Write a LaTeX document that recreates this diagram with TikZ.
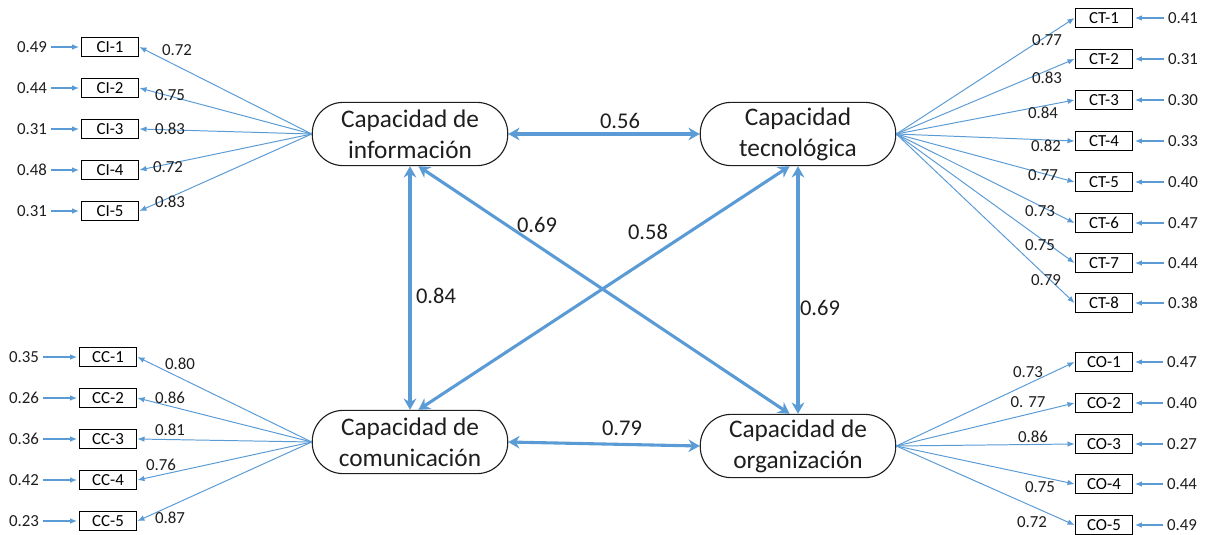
\documentclass[tikz,border=0pt]{standalone}
\usepackage{fontspec}
\setmainfont{Carlito}
\usepackage{tikz}
\usetikzlibrary{arrows.meta}

\definecolor{lineblue}{RGB}{91,155,213}
\definecolor{textgray}{RGB}{30,30,30}

\tikzset{
  latent/.style={draw=textgray, line width=0.8pt, rounded corners=22pt,
    minimum width=139pt, minimum height=45pt, align=center, inner sep=0pt,
    text=textgray, font=\fontsize{18}{22}\selectfont},
  indic/.style={draw=black, line width=0.9pt, minimum width=41pt,
    minimum height=13.5pt, inner sep=0pt, font=\fontsize{12}{12}\selectfont},
  coef/.style={inner sep=1pt, text=textgray, font=\fontsize{12}{12}\selectfont},
  corr/.style={inner sep=1pt, text=textgray, font=\fontsize{16}{16}\selectfont},
  load/.style={draw=lineblue, line width=0.7pt, -{Latex[length=5pt,width=4pt]}},
  err/.style={draw=lineblue, line width=0.9pt, -{Latex[length=5pt,width=4pt]}, shorten <=2pt, shorten >=1pt},
  link/.style={draw=lineblue, line width=2.2pt, {Stealth[length=8pt,width=9pt]}-{Stealth[length=8pt,width=9pt]}}
}

\begin{document}
\begin{tikzpicture}[x=0.025cm,y=-0.025cm]
\useasboundingbox (0,0) rectangle (1205,534);
%% Latent variables
\node[latent] (info) at (410,134) {Capacidad de\\información};
\node[latent] (tec) at (798,134) {Capacidad\\tecnológica};
\node[latent] (com) at (410,442) {Capacidad de\\comunicación};
\node[latent] (org) at (798,446) {Capacidad de\\organización};
%% Indicators of informacion
\node[indic] (ci1) at (110,47) {CI-1};
\node[indic] (ci2) at (110,88) {CI-2};
\node[indic] (ci3) at (110,129) {CI-3};
\node[indic] (ci4) at (110,170) {CI-4};
\node[indic] (ci5) at (110,211) {CI-5};
\node[coef] (eci1) at (32,47) {0.49};
\node[coef] (eci2) at (32,88) {0.44};
\node[coef] (eci3) at (32,129) {0.31};
\node[coef] (eci4) at (32,170) {0.48};
\node[coef] (eci5) at (32,211) {0.31};
\foreach \i in {1,...,5}{
  \draw[load] (info.west) -- (ci\i.east);
  \draw[err] (eci\i.east) -- (ci\i.west);
}
\node[coef] at (177,50) {0.72};
\node[coef] at (170,95) {0.75};
\node[coef] at (170,129) {0.83};
\node[coef] at (168,167) {0.72};
\node[coef] at (170,202) {0.83};
%% Indicators of comunicacion
\node[indic] (cc1) at (108,357) {CC-1};
\node[indic] (cc2) at (108,398) {CC-2};
\node[indic] (cc3) at (108,439) {CC-3};
\node[indic] (cc4) at (108,480) {CC-4};
\node[indic] (cc5) at (108,521) {CC-5};
\node[coef] (ecc1) at (24,357) {0.35};
\node[coef] (ecc2) at (24,398) {0.26};
\node[coef] (ecc3) at (24,439) {0.36};
\node[coef] (ecc4) at (24,480) {0.42};
\node[coef] (ecc5) at (24,521) {0.23};
\foreach \i in {1,...,5}{
  \draw[load] (com.west) -- (cc\i.east);
  \draw[err] (ecc\i.east) -- (cc\i.west);
}
\node[coef] at (180,364) {0.80};
\node[coef] at (170,398) {0.86};
\node[coef] at (170,430) {0.81};
\node[coef] at (161,465) {0.76};
\node[coef] at (170,518) {0.87};
%% Indicators of tecnologica
\node[indic] (ct1) at (1104,18) {CT-1};
\node[indic] (ct2) at (1104,59) {CT-2};
\node[indic] (ct3) at (1104,100) {CT-3};
\node[indic] (ct4) at (1104,141) {CT-4};
\node[indic] (ct5) at (1104,182) {CT-5};
\node[indic] (ct6) at (1104,223) {CT-6};
\node[indic] (ct7) at (1104,263) {CT-7};
\node[indic] (ct8) at (1104,303) {CT-8};
\node[coef] (ect1) at (1183,18) {0.41};
\node[coef] (ect2) at (1183,59) {0.31};
\node[coef] (ect3) at (1183,100) {0.30};
\node[coef] (ect4) at (1183,141) {0.33};
\node[coef] (ect5) at (1183,182) {0.40};
\node[coef] (ect6) at (1183,223) {0.47};
\node[coef] (ect7) at (1183,263) {0.44};
\node[coef] (ect8) at (1183,303) {0.38};
\foreach \i in {1,...,8}{
  \draw[load] (tec.east) -- (ct\i.west);
  \draw[err] (ect\i.west) -- (ct\i.east);
}
\node[coef] at (1047,40) {0.77};
\node[coef] at (1047,78) {0.83};
\node[coef] at (1043,113) {0.84};
\node[coef] at (1046,146) {0.82};
\node[coef] at (1043,175) {0.77};
\node[coef] at (1040,211) {0.73};
\node[coef] at (1040,245) {0.75};
\node[coef] at (1046,280) {0.79};
%% Indicators of organizacion
\node[indic] (co1) at (1104,362) {CO-1};
\node[indic] (co2) at (1104,403) {CO-2};
\node[indic] (co3) at (1104,444) {CO-3};
\node[indic] (co4) at (1104,484) {CO-4};
\node[indic] (co5) at (1104,525) {CO-5};
\node[coef] (eco1) at (1182,362) {0.47};
\node[coef] (eco2) at (1182,403) {0.40};
\node[coef] (eco3) at (1182,444) {0.27};
\node[coef] (eco4) at (1182,484) {0.44};
\node[coef] (eco5) at (1182,525) {0.49};
\foreach \i in {1,...,5}{
  \draw[load] (org.east) -- (co\i.west);
  \draw[err] (eco\i.west) -- (co\i.east);
}
\node[coef] at (1028,372) {0.73};
\node[coef] at (1028,402) {0. 77};
\node[coef] at (1033,437) {0.86};
\node[coef] at (1040,487) {0.75};
\node[coef] at (1032,522) {0.72};
%% Correlations between latent variables
\draw[link] (info.east) -- (tec.west);
\draw[link] (info.south) -- (com.north);
\draw[link] (tec.south) -- (org.north);
\draw[link] (com.east) -- (org.west);
\draw[link] ([xshift=6pt]info.south) -- ([xshift=-6pt]org.north);
\draw[link] ([xshift=-6pt]tec.south) -- ([xshift=6pt]com.north);
\node[corr] at (620,121) {0.56};
\node[corr] at (436,296) {0.84};
\node[corr] at (820,308) {0.69};
\node[corr] at (622,428) {0.79};
\node[corr] at (537,225) {0.69};
\node[corr] at (648,232) {0.58};
\end{tikzpicture}
\end{document}
